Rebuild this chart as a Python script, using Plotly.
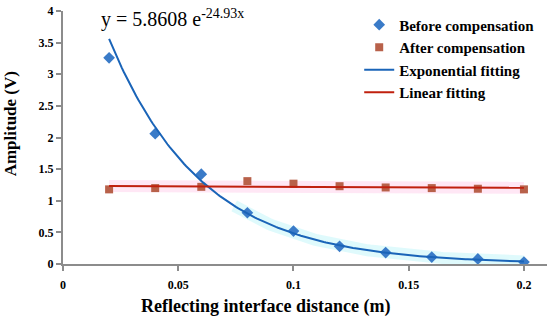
import numpy as np
import plotly.graph_objects as go

x_vals = [0.02, 0.04, 0.06, 0.08, 0.10, 0.12, 0.14, 0.16, 0.18, 0.20]
before_vals = [3.26, 2.06, 1.42, 0.81, 0.52, 0.28, 0.18, 0.11, 0.08, 0.03]
after_vals = [1.18, 1.20, 1.22, 1.31, 1.27, 1.23, 1.21, 1.20, 1.19, 1.18]
exp_a = 5.8608
exp_b = -24.93
x_ticks = [0, 0.05, 0.1, 0.15, 0.2]
x_tick_labels = ["0", "0.05", "0.1", "0.15", "0.2"]
y_ticks = [0, 0.5, 1, 1.5, 2, 2.5, 3, 3.5, 4]
y_tick_labels = ["0", "0.5", "1", "1.5", "2", "2.5", "3", "3.5", "4"]

xf = np.linspace(min(x_vals), max(x_vals), 200)
exp_fit = exp_a * np.exp(exp_b * xf)
lin_coef = np.polyfit(x_vals, after_vals, 1)
lin_fit = np.polyval(lin_coef, xf)

FONT = "Liberation Serif"

fig = go.Figure()
# soft glow bands
fig.add_trace(go.Scatter(x=xf, y=lin_fit, mode="lines", line=dict(color="rgba(255,120,200,0.18)", width=12),
                         showlegend=False, hoverinfo="skip"))
fig.add_trace(go.Scatter(x=xf[60:], y=exp_fit[60:], mode="lines", line=dict(color="rgba(80,230,240,0.18)", width=12),
                         showlegend=False, hoverinfo="skip"))
fig.add_trace(go.Scatter(x=x_vals, y=before_vals, mode="markers", name="Before compensation",
                         marker=dict(symbol="diamond", size=9, color="#3a7bc8")))
fig.add_trace(go.Scatter(x=x_vals, y=after_vals, mode="markers", name="After compensation",
                         marker=dict(symbol="square", size=8, color="#b8614a")))
fig.add_trace(go.Scatter(x=xf, y=exp_fit, mode="lines", name="Exponential fitting",
                         line=dict(color="#1a64b8", width=2)))
fig.add_trace(go.Scatter(x=xf, y=lin_fit, mode="lines", name="Linear fitting",
                         line=dict(color="#c0200e", width=2)))

fig.add_annotation(x=0.074, y=0.97, xref="paper", yref="paper", xanchor="left", yanchor="middle",
                   text="y = 5.8608 e<sup>-24.93x</sup>", showarrow=False,
                   font=dict(family=FONT, size=20, color="black"))
# axis titles
fig.add_annotation(x=0.419, y=-0.167, xref="paper", yref="paper", xanchor="center", yanchor="middle",
                   text="<b>Reflecting interface distance (m)</b>", showarrow=False,
                   font=dict(family=FONT, size=18, color="black"))
fig.add_annotation(x=-0.109, y=0.553, xref="paper", yref="paper", xanchor="center", yanchor="middle",
                   text="<b>Amplitude (V)</b>", showarrow=False, textangle=-90,
                   font=dict(family=FONT, size=17, color="black"))

fig.update_layout(
    width=550, height=322,
    margin=dict(l=63, r=3, t=11, b=58, autoexpand=False),
    plot_bgcolor="white", paper_bgcolor="white",
    font=dict(family=FONT, color="black"),
    legend=dict(x=0.612, y=1.01, xanchor="left", yanchor="top",
                font=dict(family=FONT, size=15, color="black", weight="bold"),
                bgcolor="rgba(0,0,0,0)", tracegroupgap=0, itemwidth=30),
    xaxis=dict(range=[0, 0.21], tickvals=x_ticks, ticktext=x_tick_labels, automargin=False,
               showgrid=False, zeroline=False, showline=True, linecolor="#8c8c8c", linewidth=2,
               ticks="outside", ticklen=5, tickcolor="#8c8c8c", tickwidth=2, ticklabelstandoff=4,
               tickfont=dict(family=FONT, size=12, weight="bold")),
    yaxis=dict(range=[0, 4], tickvals=y_ticks, ticktext=y_tick_labels, automargin=False,
               showgrid=False, zeroline=False, showline=True, linecolor="#8c8c8c", linewidth=2,
               ticks="outside", ticklen=5, tickcolor="#8c8c8c", tickwidth=2,
               tickfont=dict(family=FONT, size=12, weight="bold")),
)

fig.write_html("out.html", config={"displayModeBar": False},
               post_script="document.body.style.margin='0';")
